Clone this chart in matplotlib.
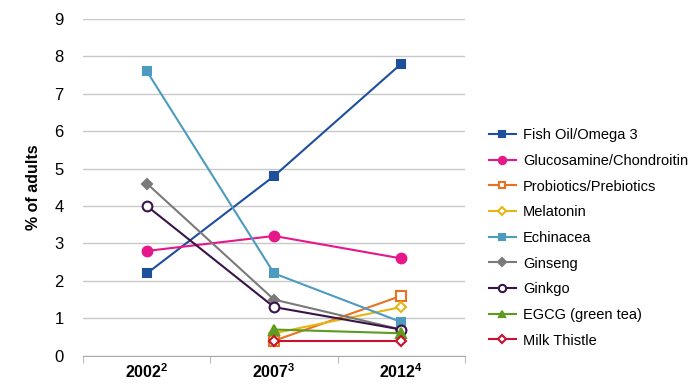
import matplotlib.pyplot as plt
import numpy as np

plt.rcParams['font.family'] = ['Liberation Sans', 'DejaVu Sans']
plt.rcParams['mathtext.fontset'] = 'custom'
plt.rcParams['mathtext.rm'] = 'Liberation Sans'
plt.rcParams['mathtext.bf'] = 'Liberation Sans:bold'

years = [r'$\mathbf{2002^2}$', r'$\mathbf{2007^3}$', r'$\mathbf{2012^4}$']
nan = np.nan

names = ['Fish Oil/Omega 3', 'Glucosamine/Chondroitin', 'Probiotics/Prebiotics',
         'Melatonin', 'Echinacea', 'Ginseng', 'Ginkgo', 'EGCG (green tea)', 'Milk Thistle']
fish_oil = [2.2, 4.8, 7.8]
glucosamine = [2.8, 3.2, 2.6]
probiotics = [nan, 0.4, 1.6]
melatonin = [nan, 0.6, 1.3]
echinacea = [7.6, 2.2, 0.9]
ginseng = [4.6, 1.5, 0.7]
ginkgo = [4.0, 1.3, 0.7]
egcg = [nan, 0.7, 0.6]
milk_thistle = [nan, 0.4, 0.4]
series = [fish_oil, glucosamine, probiotics, melatonin, echinacea,
          ginseng, ginkgo, egcg, milk_thistle]

colors = ['#1d4f9c', '#e6178a', '#ea7120', '#e6b514', '#4d9bbf',
          '#7a7a7a', '#3a1448', '#5e9a1e', '#c8112f']
markers = ['s', 'o', 's', 'D', 's', 'D', 'o', '^', 'D']
filled = [True, True, False, False, True, True, False, True, False]
msizes = [5.5, 7, 6.5, 5.5, 5.5, 5.5, 7, 6.5, 5.5]

fig = plt.figure(figsize=(7, 3.85), dpi=100)
ax = fig.add_axes([0.119, 0.076, 0.545, 0.875])

x = np.arange(len(years))
for vals, name, c, m, f, ms in zip(series, names, colors, markers, filled, msizes):
    ax.plot(x, vals, color=c, lw=1.5, marker=m, markersize=ms,
            markerfacecolor=c if f else 'white', markeredgecolor=c,
            markeredgewidth=1.5, label=name)

ax.set_xlim(-0.5, 2.5)
ax.set_ylim(0, 9)
ax.set_yticks(range(10))
ax.set_xticks(x)
ax.set_xticklabels(years, fontsize=11.5)
ax.set_xticks([-0.5, 0.5, 1.5, 2.5], minor=True)
ax.tick_params(axis='x', which='major', length=0, pad=5)
ax.tick_params(axis='x', which='minor', length=5, color='#aaaaaa')
ax.tick_params(axis='y', length=0, labelsize=12, pad=14)
ax.grid(axis='y', color='#c8c8c8', lw=1)
ax.set_axisbelow(True)
for s in ['top', 'right', 'left']:
    ax.spines[s].set_visible(False)
ax.spines['bottom'].set_color('#aaaaaa')
ax.set_ylabel('% of adults', fontsize=11.5, fontweight='bold', labelpad=10)

ax.legend(loc='center left', bbox_to_anchor=(1.03, 0.35), frameon=False,
          fontsize=10.5, handlelength=1.8, labelspacing=0.8, handletextpad=0.5,
          markerscale=0.75)

fig.savefig('out.png', dpi=100)
